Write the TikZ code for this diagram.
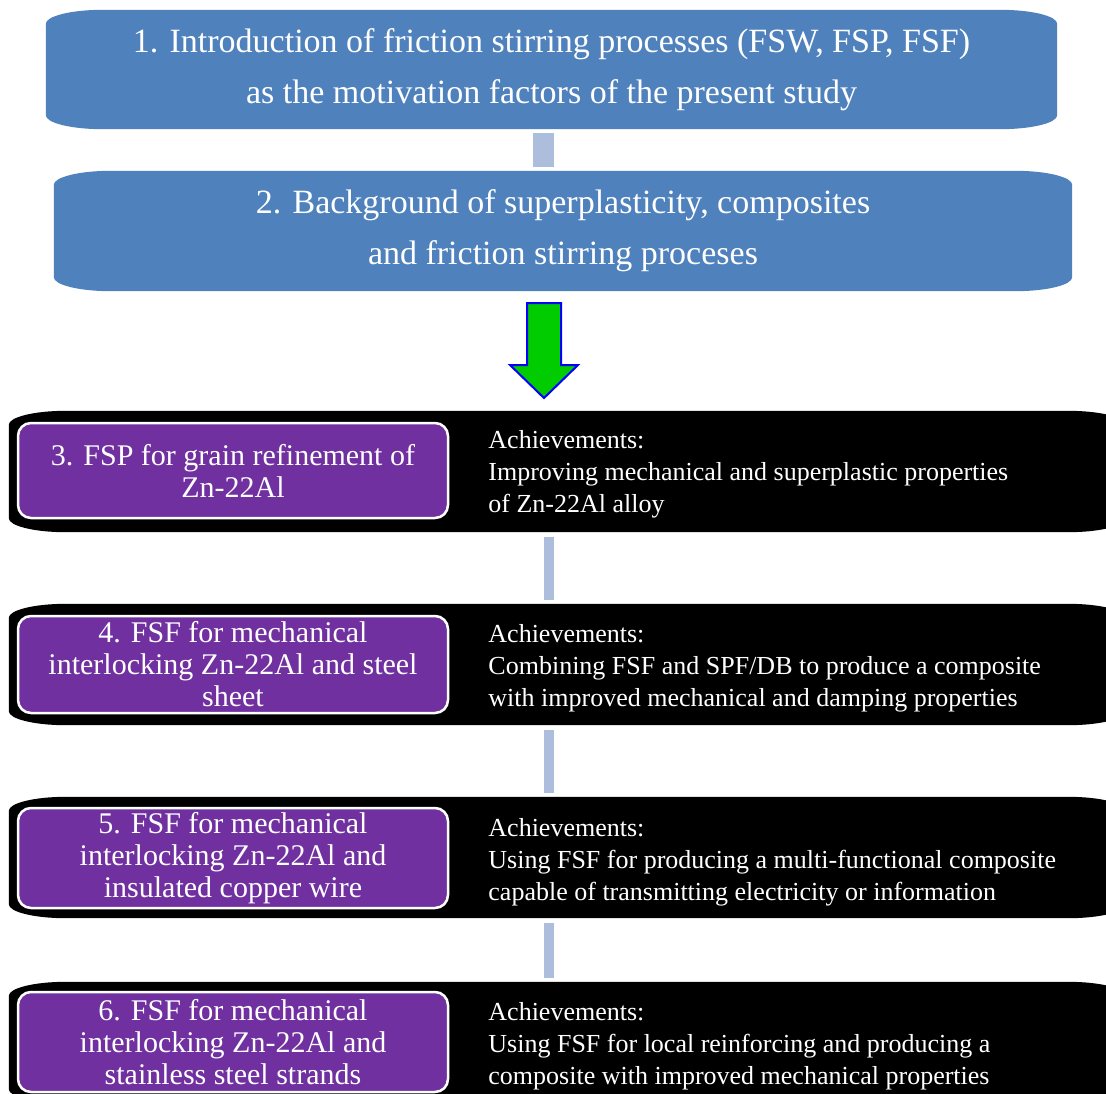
\documentclass[tikz,border=0pt]{standalone}
\usepackage{fontspec}
\setmainfont{Liberation Serif}
\usetikzlibrary{positioning}
\usetikzlibrary{calc}
\usetikzlibrary{backgrounds}
\definecolor{stageblue}{HTML}{4F81BD}
\definecolor{linkblue}{HTML}{ADBEDC}
\definecolor{taskpurple}{HTML}{7030A0}
\definecolor{arrowgreen}{HTML}{00CC00}
% flat rounded band behind a named node
\newcommand{\flatband}[2]{%
  \fill[#2] ([xshift=57pt]#1.north west) -- ([xshift=-57pt]#1.north east)
    .. controls ([xshift=-25.5pt]#1.north east) and ([yshift=-6.3pt]#1.north east) .. ([yshift=-14pt]#1.north east)
    -- ([yshift=14pt]#1.south east)
    .. controls ([yshift=6.3pt]#1.south east) and ([xshift=-25.5pt]#1.south east) .. ([xshift=-57pt]#1.south east)
    -- ([xshift=57pt]#1.south west)
    .. controls ([xshift=25.5pt]#1.south west) and ([yshift=6.3pt]#1.south west) .. ([yshift=14pt]#1.south west)
    -- ([yshift=-14pt]#1.north west)
    .. controls ([yshift=-6.3pt]#1.north west) and ([xshift=25.5pt]#1.north west) .. ([xshift=57pt]#1.north west) -- cycle;}

\begin{document}
\begin{tikzpicture}[x=1pt,y=-1pt]
\tikzset{stage/.style={minimum width=1011pt,minimum height=119pt,inner sep=0pt,align=center,text=white,font=\fontsize{34}{51}\selectfont}}
\tikzset{band/.style={minimum width=1116pt,minimum height=121pt,inner sep=0pt}}
\tikzset{task/.style={rectangle,rounded corners=13pt,draw=white,line width=2.5pt,fill=taskpurple,minimum width=430pt,inner sep=0pt,align=center,text=white,font=\fontsize{30}{32}\selectfont}}
\tikzset{gain/.style={inner sep=0pt,align=left,text=white,font=\fontsize{26}{32}\selectfont,yshift=-4pt}}
\tikzset{link/.style={draw=linkblue,line width=10.5pt}}
\useasboundingbox (0,0) rectangle (1106,1093);
\clip (0,0) rectangle (1106,1093);
\node[stage] (intro) at (551.5,69.5) {1. Introduction of friction stirring processes (FSW, FSP, FSF)\\as the motivation factors of the present study};
\node[stage,minimum width=1018pt,minimum height=120pt] (back) at (563,231) {2. Background of superplasticity, composites\\and friction stirring proceses};
\node[band] (band3) at (567,471.5) {};
\node[band] (band4) at (567,664.5) {};
\node[band] (band5) at (567,857.5) {};
\node[band] (band6) at (567,1042.5) {};
\node[task,minimum height=95pt] (fsp3) at (233,470.5) {3. FSP for grain refinement of\\Zn-22Al};
\node[task,minimum height=97pt] (fsf4) at (233,664.5) {4. FSF for mechanical\\interlocking Zn-22Al and steel\\sheet};
\node[task,minimum height=100pt] (fsf5) at (233,858) {5. FSF for mechanical\\interlocking Zn-22Al and\\insulated copper wire};
\node[task,minimum height=100pt] (fsf6) at (233,1042) {6. FSF for mechanical\\interlocking Zn-22Al and\\stainless steel strands};
\node[gain,right=39pt of fsp3] (gain3) {Achievements:\\Improving mechanical and superplastic properties\\of Zn-22Al alloy};
\node[gain,right=39pt of fsf4] (gain4) {Achievements:\\Combining FSF and SPF/DB to produce a composite\\with improved mechanical and damping properties};
\node[gain,right=39pt of fsf5] (gain5) {Achievements:\\Using FSF for producing a multi-functional composite\\capable of transmitting electricity or information};
\node[gain,right=39pt of fsf6] (gain6) {Achievements:\\Using FSF for local reinforcing and producing a\\composite with improved mechanical properties};
\begin{pgfonlayer}{background}
\flatband{intro}{stageblue}
\flatband{back}{stageblue}
\foreach \b in {band3,band4,band5,band6} {\flatband{\b}{black}}
\end{pgfonlayer}
\draw[link,line width=21pt] ([xshift=-8pt,yshift=-4pt]intro.south) -- ([xshift=-19.5pt,yshift=4pt]back.north);
\foreach \a/\b in {band3/band4,band4/band5,band5/band6}
  \draw[link] ([xshift=-18pt,yshift=-5pt]\a.south) -- ([xshift=-18pt,yshift=4pt]\b.north);
% big green arrow
\draw[draw=blue,fill=arrowgreen,line width=2pt] (527,303) -- (561,303) -- (561,365) -- (578,365) -- (544,398) -- (510,365) -- (527,365) -- cycle;
\end{tikzpicture}
\end{document}
